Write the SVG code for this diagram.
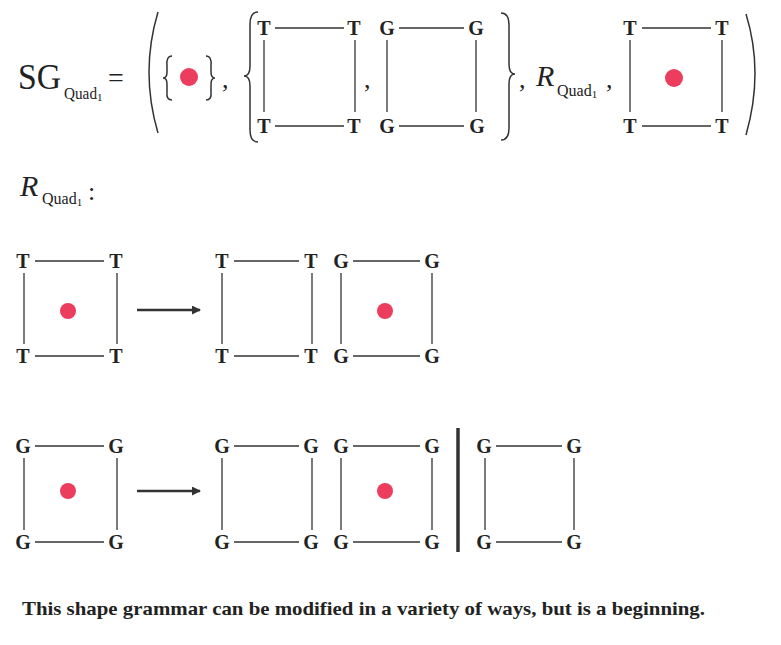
<svg xmlns="http://www.w3.org/2000/svg" width="781" height="645" viewBox="0 0 781 645">
<style>
text{font-family:"Liberation Serif","Times New Roman",serif;fill:#222}
.l{font-size:20px;font-weight:bold;text-anchor:middle}
line{stroke:#333;stroke-width:1.3}
.d{fill:#ec3d5e}
.br{fill:none;stroke:#333;stroke-width:1.5}
.scr{font-style:italic;font-size:30px}
.sub{font-size:16px}
</style>
<defs>
<marker id="ah" markerWidth="9" markerHeight="9" refX="8" refY="4.5" orient="auto" markerUnits="userSpaceOnUse"><path d="M0,0 L9,4.5 L0,9 Z" fill="#333"/></marker>
</defs>
<rect width="781" height="645" fill="#fff"/>
<g id="equation">
<text x="18" y="89" font-size="36" textLength="43" lengthAdjust="spacingAndGlyphs">SG</text>
<text x="64" y="99" class="sub" textLength="33" lengthAdjust="spacingAndGlyphs">Quad</text>
<text x="97" y="101" font-size="11">1</text>
<text x="108" y="87" font-size="28">=</text>
<path class="br" d="M158,12 Q140,72 158,133"/>
<path class="br" d="M172,56 Q166,56 167,66 L167,72 Q167,78 163,78 Q167,78 167,84 L167,92 Q166,100 172,100"/>
<circle class="d" cx="189" cy="77" r="9"/>
<path class="br" d="M206,56 Q212,56 211,66 L211,72 Q211,78 215,78 Q211,78 211,84 L211,92 Q212,100 206,100"/>
<text x="222" y="88" font-size="26">,</text>
<path class="br" d="M258,12 Q250,12 250,24 L250,66 Q250,76 244,76 Q250,76 250,86 L250,130 Q250,142 258,142"/>
<text x="364" y="88" font-size="26">,</text>
<path class="br" d="M501,13 Q509,13 509,25 L509,64 Q509,74 515,74 Q509,74 509,84 L509,128 Q509,140 501,140"/>
<text x="519" y="88" font-size="26">,</text>
<text x="536" y="86" class="scr">R</text>
<text x="557" y="96" class="sub">Quad<tspan font-size="11" dy="2">1</tspan></text>
<text x="606" y="88" font-size="26">,</text>
<path class="br" d="M746,14 Q764,72 746,135"/>
</g>
<g id="box-T1">
<text class="l" x="264" y="35">T</text><text class="l" x="354" y="35">T</text><text class="l" x="264" y="133">T</text><text class="l" x="354" y="133">T</text>
<line x1="275" y1="28" x2="344" y2="28"/><line x1="275" y1="126" x2="344" y2="126"/>
<line x1="264" y1="40" x2="264" y2="112"/><line x1="355" y1="40" x2="355" y2="112"/>
</g>
<g id="box-G1">
<text class="l" x="387" y="35">G</text><text class="l" x="476" y="35">G</text><text class="l" x="387" y="133">G</text><text class="l" x="477" y="133">G</text>
<line x1="399" y1="28" x2="464" y2="28"/><line x1="399" y1="126" x2="464" y2="126"/>
<line x1="387" y1="40" x2="387" y2="112"/><line x1="476" y1="40" x2="476" y2="112"/>
</g>
<g id="box-init">
<text class="l" x="630" y="35">T</text><text class="l" x="722" y="35">T</text><text class="l" x="630" y="133">T</text><text class="l" x="722" y="133">T</text>
<line x1="642" y1="28" x2="711" y2="28"/><line x1="642" y1="126" x2="711" y2="126"/>
<line x1="630" y1="40" x2="630" y2="112"/><line x1="722" y1="40" x2="722" y2="112"/>
<circle class="d" cx="674" cy="78" r="9"/>
</g>
<g id="rules-label">
<text x="20" y="196" class="scr">R</text>
<text x="42" y="204" class="sub">Quad<tspan font-size="11" dy="2">1</tspan></text>
<text x="88" y="200" font-size="26">:</text>
</g>
<g id="rule1-lhs">
<text class="l" x="23" y="268">T</text><text class="l" x="116" y="268">T</text><text class="l" x="23" y="363">T</text><text class="l" x="116" y="363">T</text>
<line x1="35" y1="261" x2="104" y2="261"/><line x1="35" y1="356" x2="104" y2="356"/>
<line x1="24" y1="273" x2="24" y2="344"/><line x1="117" y1="273" x2="117" y2="344"/>
<circle class="d" cx="68" cy="311" r="8"/>
</g>
<g id="rule1-rhs">
<text class="l" x="222" y="268">T</text><text class="l" x="311" y="268">T</text><text class="l" x="222" y="363">T</text><text class="l" x="311" y="363">T</text>
<line x1="234" y1="261" x2="299" y2="261"/><line x1="234" y1="356" x2="299" y2="356"/>
<line x1="222" y1="273" x2="222" y2="344"/><line x1="312" y1="273" x2="312" y2="344"/>
<text class="l" x="341" y="268">G</text><text class="l" x="432" y="268">G</text><text class="l" x="341" y="363">G</text><text class="l" x="432" y="363">G</text>
<line x1="353" y1="261" x2="420" y2="261"/><line x1="353" y1="356" x2="420" y2="356"/>
<line x1="341" y1="273" x2="341" y2="344"/><line x1="432" y1="273" x2="432" y2="344"/>
<circle class="d" cx="385" cy="311" r="8"/>
</g>
<g id="rule2-lhs">
<text class="l" x="23" y="453">G</text><text class="l" x="116" y="453">G</text><text class="l" x="23" y="549">G</text><text class="l" x="116" y="549">G</text>
<line x1="35" y1="446" x2="104" y2="446"/><line x1="35" y1="542" x2="104" y2="542"/>
<line x1="24" y1="458" x2="24" y2="530"/><line x1="117" y1="458" x2="117" y2="530"/>
<circle class="d" cx="68" cy="491" r="8"/>
</g>
<g id="rule2-rhs">
<text class="l" x="222" y="453">G</text><text class="l" x="311" y="453">G</text><text class="l" x="222" y="549">G</text><text class="l" x="311" y="549">G</text>
<line x1="234" y1="446" x2="299" y2="446"/><line x1="234" y1="542" x2="299" y2="542"/>
<line x1="222" y1="458" x2="222" y2="530"/><line x1="312" y1="458" x2="312" y2="530"/>
<text class="l" x="341" y="453">G</text><text class="l" x="432" y="453">G</text><text class="l" x="341" y="549">G</text><text class="l" x="432" y="549">G</text>
<line x1="353" y1="446" x2="420" y2="446"/><line x1="353" y1="542" x2="420" y2="542"/>
<line x1="341" y1="458" x2="341" y2="530"/><line x1="432" y1="458" x2="432" y2="530"/>
<circle class="d" cx="385" cy="491" r="8"/>
<line x1="458" y1="428" x2="458" y2="552" style="stroke-width:3.5"/>
<text class="l" x="484" y="453">G</text><text class="l" x="574" y="453">G</text><text class="l" x="484" y="549">G</text><text class="l" x="574" y="549">G</text>
<line x1="496" y1="446" x2="562" y2="446"/><line x1="496" y1="542" x2="562" y2="542"/>
<line x1="485" y1="458" x2="485" y2="530"/><line x1="574" y1="458" x2="574" y2="530"/>
</g>
<g id="connectors">
<line x1="137" y1="310" x2="200" y2="310" style="stroke-width:2.5" marker-end="url(#ah)"/>
<line x1="137" y1="491" x2="200" y2="491" style="stroke-width:2.5" marker-end="url(#ah)"/>
</g>
<text x="22" y="615" font-size="19" font-weight="bold" textLength="683" lengthAdjust="spacingAndGlyphs">This shape grammar can be modified in a variety of ways, but is a beginning.</text>
</svg>
